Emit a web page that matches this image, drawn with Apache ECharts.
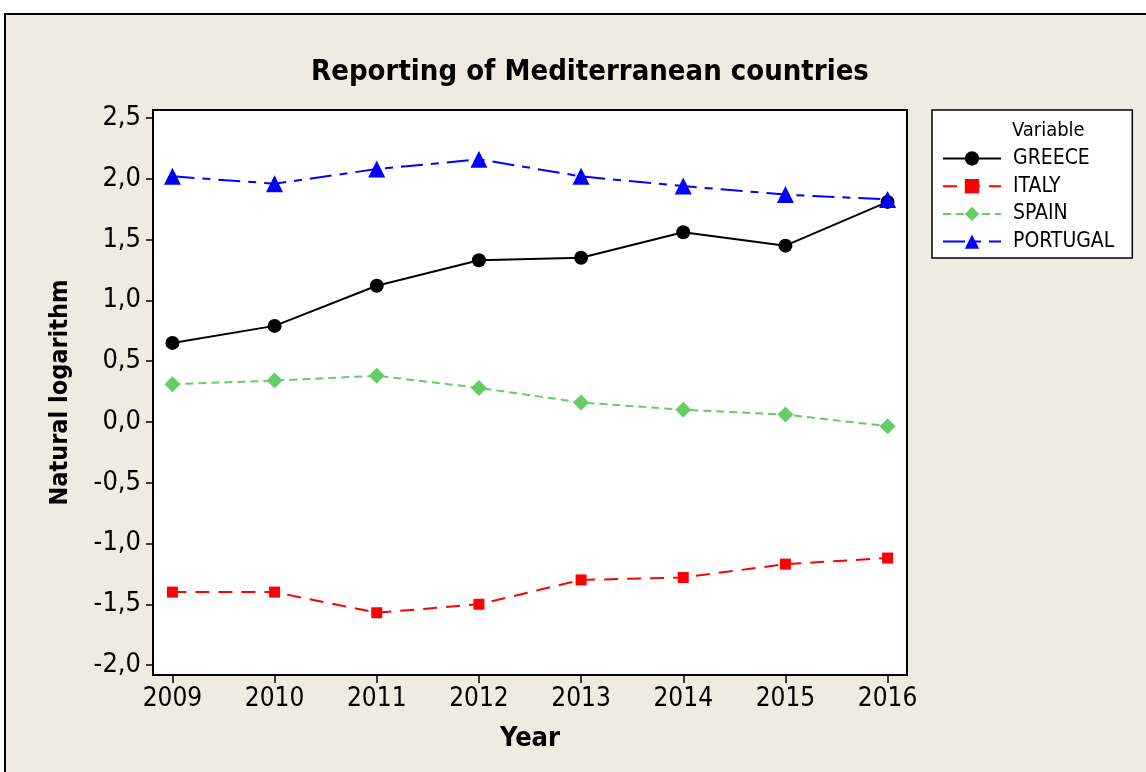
<!DOCTYPE html>
<html>
<head>
<meta charset="utf-8">
<script src="https://cdn.jsdelivr.net/npm/echarts@6/dist/echarts.min.js"></script>
<style>
  html, body { margin: 0; padding: 0; background: #ffffff; overflow: hidden; }
  #frame { position: absolute; left: 4px; top: 13px; width: 1160px; height: 780px;
           border-top: 2px solid #000; border-left: 2px solid #000; background: #EFEBE1; }
  #chart { position: absolute; left: 0; top: 0; width: 1146px; height: 772px; }
</style>
</head>
<body>
<div id="frame"></div>
<div id="chart"></div>
<script>
const years = [2009, 2010, 2011, 2012, 2013, 2014, 2015, 2016];
const yTicks = [-2.0, -1.5, -1.0, -0.5, 0.0, 0.5, 1.0, 1.5, 2.0, 2.5];
const greece   = [0.65, 0.79, 1.12, 1.33, 1.35, 1.56, 1.45, 1.81];
const italy    = [-1.40, -1.40, -1.57, -1.50, -1.30, -1.28, -1.17, -1.12];
const spain    = [0.31, 0.34, 0.38, 0.28, 0.16, 0.10, 0.06, -0.035];
const portugal = [2.02, 1.96, 2.08, 2.16, 2.02, 1.94, 1.87, 1.83];

const FONT = '"DejaVu Sans Condensed", "DejaVu Sans", sans-serif';
const pairs = arr => years.map((y, i) => [y, arr[i]]);

const chart = echarts.init(document.getElementById('chart'), null, { renderer: 'canvas' });

function mkSeries(name, data, color, symbol, size, dash) {
  return {
    name, type: 'line', data: pairs(data),
    symbol, symbolSize: size,
    itemStyle: { color },
    lineStyle: { color, width: 2, type: dash },
    emphasis: { disabled: true },
    animation: false
  };
}

chart.setOption({
  backgroundColor: 'transparent',
  animation: false,
  title: [
    { text: 'Reporting of Mediterranean countries', left: 585, top: 53, textAlign: 'center',
      textStyle: { fontFamily: FONT, fontSize: 29, fontWeight: 'bold', color: '#000' } },
    { text: 'Variable', left: 1007, top: 116,
      textStyle: { fontFamily: FONT, fontSize: 20, fontWeight: 'normal', color: '#000' } }
  ],
  grid: { left: 153, top: 110, width: 754, height: 565, show: true,
          backgroundColor: '#ffffff', borderColor: '#000', borderWidth: 2, containLabel: false },
  legend: {
    orient: 'vertical', left: 932, top: 110,
    padding: [38, 18, 6, 10],
    itemWidth: 58, itemHeight: 18, itemGap: 6.7,
    backgroundColor: '#ffffff', borderColor: '#000', borderWidth: 1.5,
    textStyle: { fontFamily: FONT, fontSize: 21, color: '#000', padding: [0, 0, 0, 7] },
    data: ['GREECE', 'ITALY', 'SPAIN', 'PORTUGAL']
  },
  xAxis: {
    type: 'value', min: 2008.81, max: 2016.19,
    name: 'Year', nameLocation: 'middle', nameGap: 50,
    nameTextStyle: { fontFamily: FONT, fontSize: 27, fontWeight: 'bold', color: '#000' },
    axisLine: { show: true, onZero: false, lineStyle: { color: '#000', width: 2 } },
    axisTick: { show: true, length: 8, lineStyle: { color: '#000', width: 1.5 }, customValues: years },
    axisLabel: { fontFamily: FONT, fontSize: 26, color: '#000', margin: 11, customValues: years,
                 formatter: v => String(Math.round(v)) },
    splitLine: { show: false }
  },
  yAxis: {
    type: 'value', min: -2.082, max: 2.566,
    name: 'Natural logarithm', nameLocation: 'middle', nameGap: 80, nameRotate: 90,
    nameTextStyle: { fontFamily: FONT, fontSize: 25, fontWeight: 'bold', color: '#000' },
    axisLine: { show: true, onZero: false, lineStyle: { color: '#000', width: 2 } },
    axisTick: { show: true, length: 7, lineStyle: { color: '#000', width: 1.5 }, customValues: yTicks },
    axisLabel: { fontFamily: FONT, fontSize: 27, color: '#000', margin: 12, customValues: yTicks,
                 formatter: v => v.toFixed(1).replace('.', ',') },
    splitLine: { show: false }
  },
  series: [
    mkSeries('GREECE', greece, '#000000', 'circle', 14, 'solid'),
    mkSeries('ITALY', italy, '#ff0000', 'rect', 11, [14, 9]),
    mkSeries('SPAIN', spain, '#66cc66', 'diamond', 16, [8, 5]),
    mkSeries('PORTUGAL', portugal, '#0000ff', 'triangle', 17, [22, 8, 8, 8])
  ]
});
</script>
</body>
</html>
